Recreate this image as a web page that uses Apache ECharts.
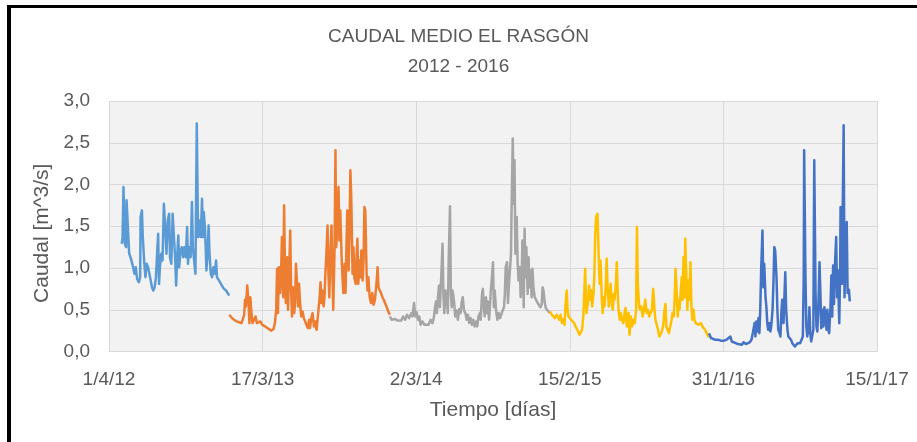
<!DOCTYPE html>
<html lang="es">
<head>
    <meta charset="UTF-8">
    <title>Caudal medio El Rasgón 2012 - 2016</title>
    <script src="https://cdn.jsdelivr.net/npm/echarts@6/dist/echarts.min.js"></script>
    <style>
        html, body {
            margin: 0;
            padding: 0;
            background: #fff;
        }
        #main {
            width: 917px;
            height: 442px;
        }
        /* marco negro de la captura (arriba e izquierda) */
        .marco {
            position: absolute;
            left: 7px;
            top: 5px;
            right: 0;
            bottom: 0;
            border-top: 3px solid #000;
            border-left: 4px solid #000;
            pointer-events: none;
        }
    </style>
</head>
<body>
    <div id="main"></div>
    <div class="marco"></div>

    <script>
        // Eje X: días contados desde el 1/4/12
        var inicio = Date.UTC(2012, 3, 1);
        var ejeXmin = 0, ejeXmax = 1750, ejeXpaso = 350;

        // [día, caudal m^3/s]
        var serie2012 = [[29,1.29],[31,1.37],[33,1.97],[36,1.29],[39,1.25],[40,1.81],[43,1.49],[46,1.17],[49,1.13],[52,1.07],[55,1.01],[58,0.93],[61,1.01],[64,0.87],[68,0.83],[71,0.89],[72,1.61],[75,1.69],[77,1.37],[80,1.09],[83,0.89],[86,1.05],[89,1.01],[92,0.93],[95,0.85],[98,0.77],[101,0.73],[104,0.77],[107,0.89],[110,1.21],[112,1.41],[114,0.81],[116,1.01],[119,1.17],[122,1.09],[125,1.77],[128,1.49],[131,1.17],[134,1.57],[137,1.65],[139,1.13],[142,1.05],[145,1.65],[148,1.37],[151,1.09],[153,0.79],[156,1.21],[158,1.39],[160,1.01],[163,1.21],[166,1.25],[169,1.13],[172,1.25],[175,1.13],[178,1.49],[180,1.05],[183,1.25],[186,1.13],[189,1.79],[191,1.25],[194,1.09],[197,0.93],[200,2.73],[203,1.37],[206,1.57],[209,1.37],[212,1.83],[214,1.37],[216,1.67],[219,1.45],[222,0.97],[225,1.21],[227,1.51],[229,1.17],[232,0.93],[235,0.89],[238,1.01],[241,0.93],[244,1.09],[246,0.89],[249,0.87],[253,0.83],[257,0.79],[262,0.75],[267,0.73],[270,0.71],[274,0.67]];

        var serie2013 = [[274,0.44],[280,0.40],[285,0.38],[291,0.36],[297,0.35],[302,0.34],[305,0.36],[308,0.44],[310,0.62],[312,0.54],[315,0.79],[318,0.58],[320,0.34],[322,0.65],[324,0.50],[327,0.34],[330,0.34],[334,0.42],[337,0.34],[341,0.32],[345,0.36],[349,0.32],[353,0.31],[356,0.30],[361,0.28],[365,0.26],[370,0.25],[375,0.27],[378,0.34],[381,0.50],[383,0.99],[385,0.46],[387,1.01],[390,0.70],[392,0.89],[394,1.37],[397,0.65],[399,1.75],[401,0.97],[403,0.58],[406,1.13],[408,0.50],[410,0.87],[413,1.45],[415,0.73],[417,0.42],[419,0.77],[422,0.46],[424,0.58],[426,1.05],[429,0.77],[431,0.54],[433,0.81],[435,0.61],[438,0.42],[441,0.48],[444,0.40],[447,0.38],[450,0.32],[453,0.28],[456,0.38],[458,0.28],[461,0.40],[464,0.46],[467,0.30],[470,0.36],[473,0.26],[475,0.36],[477,0.48],[480,0.65],[482,0.83],[484,0.58],[486,0.73],[489,0.54],[491,0.65],[493,0.93],[495,1.13],[498,1.51],[500,0.93],[502,0.65],[505,1.25],[507,1.51],[509,0.97],[511,0.50],[514,1.25],[516,2.41],[518,1.25],[521,1.65],[523,1.97],[525,1.33],[527,1.69],[530,1.13],[532,0.89],[534,0.70],[537,1.05],[539,0.70],[541,1.25],[543,1.69],[546,0.97],[548,1.45],[550,2.17],[552,1.85],[555,0.93],[557,1.25],[559,0.89],[562,0.81],[564,1.13],[566,1.35],[568,0.81],[571,1.09],[573,0.89],[575,1.21],[578,0.85],[580,1.09],[582,1.73],[584,1.69],[587,0.93],[589,0.73],[591,0.89],[594,0.65],[597,0.58],[600,0.70],[603,0.56],[606,0.62],[610,0.85],[612,1.01],[614,0.77],[617,0.73],[620,0.70],[623,0.65],[626,0.62],[629,0.58],[632,0.54],[635,0.50],[638,0.46],[640,0.44]];

        var serie2014 = [[640,0.42],[644,0.38],[648,0.36],[652,0.39],[657,0.37],[661,0.39],[666,0.37],[670,0.42],[675,0.38],[679,0.44],[684,0.40],[689,0.46],[692,0.42],[695,0.58],[698,0.42],[701,0.47],[704,0.38],[707,0.42],[710,0.32],[714,0.36],[719,0.32],[723,0.34],[728,0.32],[733,0.38],[737,0.34],[740,0.40],[742,0.49],[745,0.60],[747,0.46],[749,0.61],[752,0.79],[754,0.53],[756,0.77],[758,1.01],[760,1.29],[762,0.69],[764,0.46],[767,0.73],[770,0.61],[772,0.46],[774,1.09],[777,1.74],[779,0.69],[781,0.53],[783,0.73],[786,0.61],[789,0.42],[792,0.49],[795,0.38],[798,0.51],[801,0.46],[804,0.60],[806,0.65],[809,0.49],[812,0.46],[815,0.38],[818,0.44],[821,0.34],[824,0.40],[827,0.32],[830,0.38],[833,0.30],[836,0.36],[839,0.30],[842,0.42],[845,0.46],[847,0.38],[850,0.69],[852,0.75],[854,0.53],[856,0.42],[859,0.65],[861,0.46],[863,0.60],[866,0.38],[868,0.53],[870,0.73],[872,0.85],[875,1.07],[877,0.53],[879,0.73],[882,0.49],[885,0.38],[888,0.46],[891,0.40],[894,0.38],[897,0.49],[900,0.53],[902,0.69],[904,1.01],[907,1.07],[909,0.58],[911,0.77],[913,0.93],[916,1.17],[917,1.57],[920,2.55],[922,1.77],[924,2.29],[926,1.17],[929,1.61],[931,1.09],[933,0.85],[936,1.01],[938,0.65],[940,0.77],[942,1.33],[945,0.53],[947,1.47],[949,0.89],[951,1.25],[954,0.69],[956,1.13],[958,0.77],[961,0.97],[963,0.65],[965,0.99],[967,0.77],[970,0.65],[974,0.61],[977,0.58],[980,0.56],[983,0.53],[986,0.56],[988,0.77],[990,0.73],[993,0.58],[996,0.51],[999,0.49],[1003,0.47],[1005,0.46]];

        var serie2015 = [[1005,0.48],[1009,0.44],[1012,0.42],[1016,0.40],[1020,0.44],[1024,0.46],[1026,0.38],[1029,0.44],[1032,0.34],[1035,0.38],[1038,0.32],[1041,0.62],[1043,0.73],[1045,0.50],[1047,0.42],[1050,0.44],[1053,0.38],[1057,0.36],[1060,0.34],[1063,0.30],[1066,0.28],[1069,0.24],[1072,0.20],[1075,0.22],[1078,0.26],[1081,0.44],[1083,0.69],[1085,0.99],[1088,0.46],[1090,0.54],[1092,0.62],[1094,0.79],[1097,0.62],[1099,0.73],[1101,0.54],[1104,0.69],[1106,0.93],[1108,1.41],[1110,1.61],[1113,1.65],[1116,1.13],[1118,0.81],[1120,1.09],[1123,0.62],[1125,0.46],[1127,0.65],[1129,0.54],[1132,0.77],[1134,1.11],[1136,0.77],[1139,0.54],[1141,0.65],[1143,0.81],[1145,0.62],[1148,0.50],[1150,0.69],[1152,0.62],[1155,0.81],[1157,1.07],[1159,0.73],[1161,0.50],[1164,0.38],[1166,0.46],[1169,0.38],[1172,0.34],[1175,0.46],[1177,0.52],[1180,0.30],[1182,0.38],[1184,0.46],[1186,0.20],[1189,0.42],[1192,0.30],[1195,0.38],[1198,0.34],[1201,0.50],[1203,1.49],[1205,0.81],[1208,0.54],[1210,0.50],[1213,0.54],[1216,0.42],[1219,0.50],[1222,0.62],[1225,0.46],[1228,0.50],[1231,0.42],[1234,0.44],[1237,0.50],[1240,0.75],[1243,0.50],[1245,0.38],[1248,0.32],[1251,0.26],[1254,0.18],[1257,0.16],[1260,0.24],[1263,0.32],[1265,0.46],[1268,0.57],[1270,0.30],[1273,0.26],[1276,0.22],[1279,0.30],[1282,0.38],[1284,0.46],[1287,0.42],[1289,0.65],[1291,0.99],[1294,0.65],[1296,0.42],[1298,0.62],[1300,0.50],[1303,0.73],[1305,0.89],[1307,0.62],[1309,1.13],[1312,0.65],[1313,1.35],[1316,0.81],[1318,0.50],[1320,0.85],[1322,0.62],[1325,1.07],[1327,0.57],[1329,0.38],[1332,0.50],[1334,0.38],[1337,0.34],[1340,0.36],[1343,0.32],[1346,0.30],[1349,0.34],[1352,0.30],[1355,0.32],[1358,0.26],[1361,0.24],[1364,0.20],[1367,0.17]];

        var serie2016 = [[1367,0.22],[1372,0.16],[1377,0.15],[1382,0.14],[1388,0.14],[1394,0.13],[1401,0.13],[1407,0.14],[1411,0.13],[1416,0.18],[1419,0.12],[1423,0.11],[1428,0.10],[1433,0.09],[1437,0.09],[1442,0.08],[1446,0.11],[1451,0.09],[1455,0.10],[1460,0.11],[1464,0.14],[1467,0.22],[1471,0.34],[1473,0.18],[1475,0.36],[1477,0.24],[1480,0.40],[1482,0.22],[1484,0.50],[1486,0.97],[1489,1.45],[1491,0.77],[1493,1.05],[1496,0.65],[1498,0.53],[1500,0.34],[1502,0.26],[1505,0.34],[1507,0.24],[1509,0.30],[1512,0.50],[1514,0.81],[1516,1.25],[1518,1.21],[1521,0.89],[1523,0.50],[1525,0.26],[1528,0.22],[1530,0.18],[1532,0.46],[1534,0.62],[1537,0.34],[1539,0.65],[1541,0.95],[1543,0.50],[1546,0.26],[1548,0.18],[1551,0.20],[1554,0.14],[1557,0.10],[1560,0.08],[1563,0.06],[1566,0.07],[1569,0.10],[1572,0.08],[1575,0.10],[1578,0.14],[1581,0.18],[1583,0.89],[1584,2.41],[1587,0.89],[1589,0.30],[1591,0.18],[1594,0.26],[1596,0.53],[1598,0.22],[1600,0.12],[1603,0.14],[1605,0.26],[1607,2.29],[1610,0.70],[1612,0.30],[1614,0.24],[1616,0.46],[1619,1.07],[1621,0.70],[1623,0.28],[1625,0.50],[1628,0.30],[1630,0.53],[1632,0.46],[1635,0.26],[1637,0.50],[1639,0.26],[1641,0.22],[1644,0.53],[1646,0.91],[1648,0.42],[1650,1.03],[1652,0.57],[1654,1.01],[1657,1.37],[1659,0.65],[1661,0.97],[1664,0.34],[1666,0.97],[1667,1.73],[1670,0.81],[1672,1.75],[1674,2.71],[1676,0.65],[1679,1.21],[1681,1.55],[1683,0.70],[1686,0.74],[1688,0.60]];

        var anios = ['2012', '2013', '2014', '2015', '2016'];
        var colores = ['#5B9BD5', '#ED7D31', '#A5A5A5', '#FFC000', '#4472C4'];
        var series = [serie2012, serie2013, serie2014, serie2015, serie2016];

        var fuente = "'Liberation Sans', Arial, sans-serif";
        var gris = '#595959';

        function fechaCorta(dias) {
            var d = new Date(inicio + dias * 86400000);
            return d.getUTCDate() + '/' + (d.getUTCMonth() + 1) + '/' + String(d.getUTCFullYear()).slice(2);
        }

        var myChart = echarts.init(document.getElementById('main'));

        var option = {
            animation: false,
            backgroundColor: '#fff',
            textStyle: { fontFamily: fuente },
            title: {
                text: 'CAUDAL MEDIO EL RASGÓN\n2012 - 2016',
                left: 'center',
                top: 22,
                padding: 0,
                textStyle: {
                    fontFamily: fuente,
                    fontSize: 19,
                    fontWeight: 'normal',
                    color: gris,
                    lineHeight: 30
                }
            },
            grid: {
                left: 109,
                right: 40,
                top: 101,
                bottom: 90.5,
                show: true,
                backgroundColor: '#F2F2F2',
                borderWidth: 0
            },
            xAxis: {
                type: 'value',
                min: ejeXmin,
                max: ejeXmax,
                interval: ejeXpaso,
                name: 'Tiempo [días]',
                nameLocation: 'middle',
                nameGap: 48,
                nameTextStyle: { fontSize: 21, color: gris, fontFamily: fuente },
                axisLine: { lineStyle: { color: '#D9D9D9', width: 1 } },
                axisTick: { show: false },
                axisLabel: {
                    fontSize: 19,
                    color: gris,
                    margin: 19,
                    formatter: fechaCorta
                },
                splitLine: { show: true, lineStyle: { color: '#D9D9D9', width: 1 } }
            },
            yAxis: {
                type: 'value',
                min: 0,
                max: 3,
                interval: 0.5,
                name: 'Caudal [m^3/s]',
                nameLocation: 'middle',
                nameGap: 52,
                nameTextStyle: { fontSize: 21, color: gris, fontFamily: fuente, padding: [0, 14, 0, 0] },
                axisLine: { show: false },
                axisTick: { show: false },
                axisLabel: {
                    fontSize: 19,
                    color: gris,
                    margin: 19,
                    formatter: function (v) { return v.toFixed(1).replace('.', ','); }
                },
                splitLine: { show: true, lineStyle: { color: '#D9D9D9', width: 1 } }
            },
            series: series.map(function (datos, i) {
                return {
                    name: anios[i],
                    type: 'line',
                    data: datos,
                    showSymbol: false,
                    symbol: 'none',
                    lineStyle: { color: colores[i], width: 2.5, join: 'round' },
                    itemStyle: { color: colores[i] },
                    z: 2
                };
            })
        };

        myChart.setOption(option);
    </script>
</body>
</html>
